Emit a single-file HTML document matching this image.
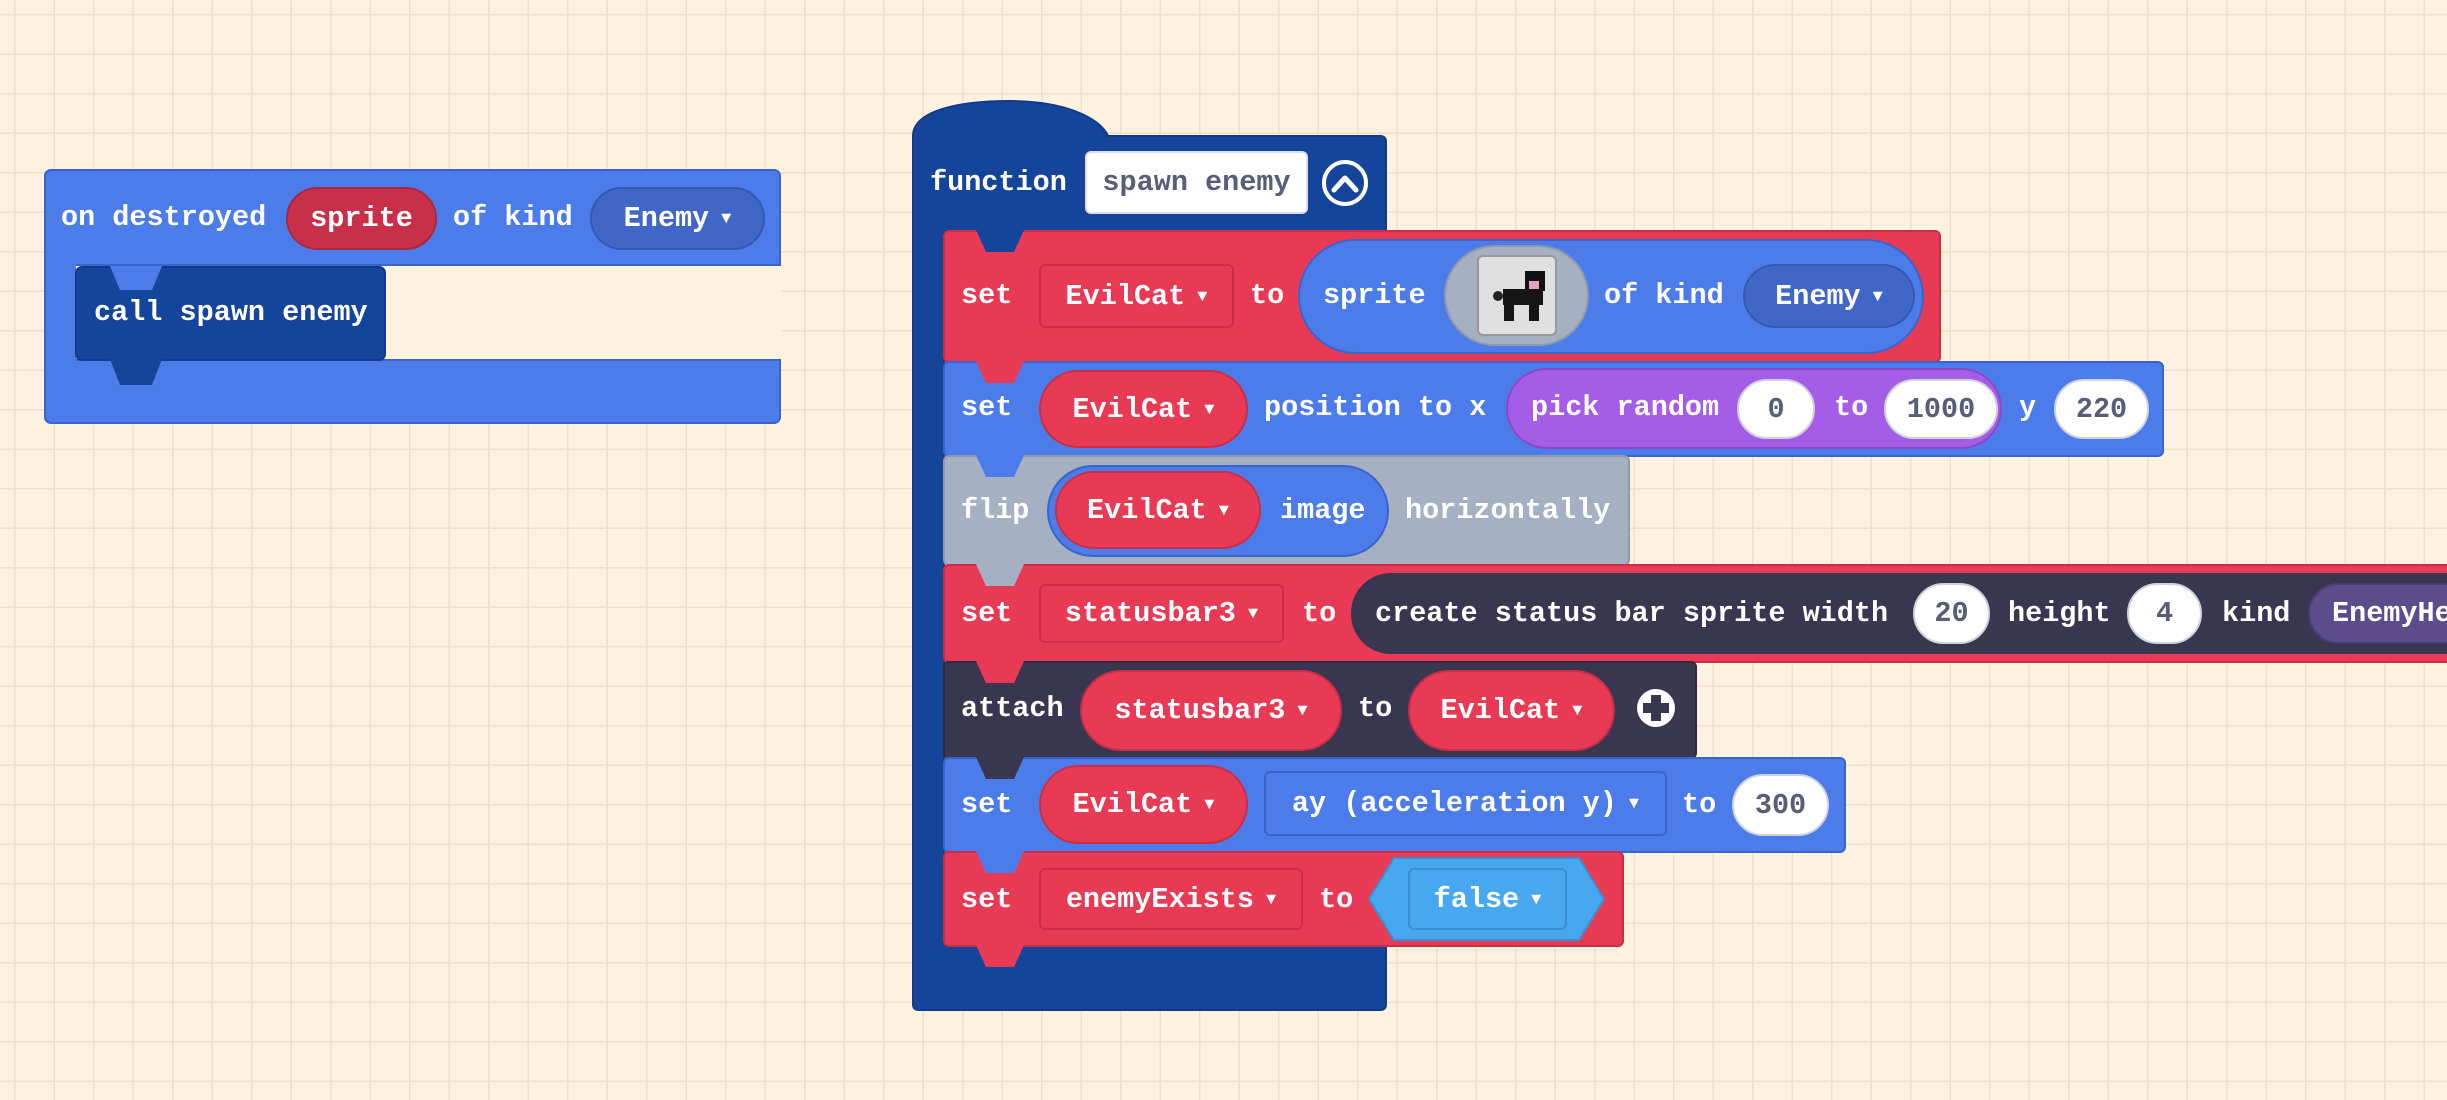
<!DOCTYPE html>
<html><head><meta charset="utf-8"><style>
html,body{margin:0;padding:0}
body{width:2447px;height:1100px;position:relative;overflow:hidden;background-color:#fdf2df;
background-image:linear-gradient(to right,#ecdfcc 1.5px,transparent 1.5px),linear-gradient(to bottom,#ecdfcc 1.5px,transparent 1.5px);
background-size:39.5px 39.5px;background-position:14px 14px;
font-family:"Liberation Mono",monospace;font-weight:bold;font-size:28.5px;color:#fff}
.a{position:absolute;box-sizing:border-box}
.t{position:absolute;white-space:nowrap;line-height:40px;transform:translateY(-20px)}
.pill{position:absolute;box-sizing:border-box;border-radius:999px;display:flex;align-items:center;justify-content:center;white-space:nowrap}
.v{background:#fff;color:#575e75;border:2px solid #cfd3dc}
.dd{position:absolute;box-sizing:border-box;border-radius:6px;display:flex;align-items:center;justify-content:center;white-space:nowrap}
.tri{font-size:17px;margin-left:12px;position:relative;top:1px}
svg{position:absolute;left:0;top:0}
</style></head><body>

<svg width="2447" height="1100">
<!-- left event block -->
<rect x="45" y="170" width="735" height="253" rx="6" fill="#4c7ce9" stroke="#3a64c8" stroke-width="2"/>
<rect x="76" y="266" width="706" height="93" fill="#fdf2df"/>
<line x1="76" y1="265" x2="780" y2="265" stroke="#3a64c8" stroke-width="2"/>
<line x1="76" y1="360" x2="780" y2="360" stroke="#3a64c8" stroke-width="2"/>
<rect x="76" y="267" width="309" height="93" rx="6" fill="#15449b" stroke="#12398a" stroke-width="2"/>
<path d="M110 266 L120 290 L152 290 L162 266 Z" fill="#4c7ce9"/>
<path d="M110 359 L120 385 L152 385 L162 359 Z" fill="#15449b"/>

<!-- function block -->
<path d="M913 136 C913 112 955 101 1010 101 C1065 101 1100 118 1108 136 L1380 136 Q1386 136 1386 142 L1386 231 L944 231 L944 946 L1386 946 L1386 1004 Q1386 1010 1380 1010 L919 1010 Q913 1010 913 1004 Z" fill="#15449b" stroke="#12398a" stroke-width="2"/>

<rect x="944" y="231" width="996" height="131" rx="5" fill="#e93a55" stroke="#c92d47" stroke-width="2"/>
<rect x="944" y="362" width="1219" height="94" rx="5" fill="#4c7ce9" stroke="#3a64c8" stroke-width="2"/>
<rect x="944" y="456" width="685" height="109" rx="5" fill="#a5b0c2" stroke="#8f99ab" stroke-width="2"/>
<rect x="944" y="565" width="1520" height="97" rx="5" fill="#e93a55" stroke="#c92d47" stroke-width="2"/>
<rect x="944" y="662" width="752" height="96" rx="5" fill="#393650" stroke="#2c2a40" stroke-width="2"/>
<rect x="944" y="758" width="901" height="94" rx="5" fill="#4c7ce9" stroke="#3a64c8" stroke-width="2"/>
<rect x="944" y="852" width="679" height="94" rx="5" fill="#e93a55" stroke="#c92d47" stroke-width="2"/>

<path d="M976 230 L986 252 L1014 252 L1024 230 Z" fill="#15449b"/>
<path d="M976 361 L986 383 L1014 383 L1024 361 Z" fill="#e93a55"/>
<path d="M976 455 L986 477 L1014 477 L1024 455 Z" fill="#4c7ce9"/>
<path d="M976 564 L986 586 L1014 586 L1024 564 Z" fill="#a5b0c2"/>
<path d="M976 661 L986 683 L1014 683 L1024 661 Z" fill="#e93a55"/>
<path d="M976 757 L986 779 L1014 779 L1024 757 Z" fill="#393650"/>
<path d="M976 851 L986 873 L1014 873 L1024 851 Z" fill="#4c7ce9"/>
<path d="M976 945 L986 967 L1014 967 L1024 945 Z" fill="#e93a55"/>

<path d="M1369 899 L1394 858 L1579 858 L1604 899 L1579 940 L1394 940 Z" fill="#47a8f0" stroke="#3a8fd0" stroke-width="2"/>

<circle cx="1345" cy="183" r="21" fill="none" stroke="#fff" stroke-width="4"/>
<path d="M1334 190 L1345 178 L1356 190" fill="none" stroke="#fff" stroke-width="5" stroke-linecap="round" stroke-linejoin="round"/>
<circle cx="1656" cy="708" r="19" fill="#fff"/>
<rect x="1651" y="695" width="10" height="26" fill="#393650"/>
<rect x="1643" y="703" width="26" height="10" fill="#393650"/>
</svg>

<div class="t" style="left:61px;top:218px">on destroyed</div>
<div class="pill" style="left:286px;top:187px;width:151px;height:63px;background:#c8304a;border:2px solid #a9273e">sprite</div>
<div class="t" style="left:453px;top:218px">of kind</div>
<div class="pill" style="left:590px;top:187px;width:175px;height:63px;background:#4066c7;border:2px solid #3558b0">Enemy<span class="tri">▼</span></div>
<div class="t" style="left:94px;top:313px">call spawn enemy</div>

<div class="t" style="left:930px;top:183px">function</div>
<div class="dd" style="left:1085px;top:151px;width:223px;height:63px;background:#fff;color:#575e75;border:2px solid #dde">spawn enemy</div>

<div class="t" style="left:961px;top:296px">set</div>
<div class="dd" style="left:1039px;top:264px;width:195px;height:64px;border:2px solid #c92d47">EvilCat<span class="tri">▼</span></div>
<div class="t" style="left:1250px;top:296px">to</div>
<div class="pill" style="left:1298px;top:239px;width:626px;height:115px;background:#4c7ce9;border:2px solid #3a64c8"></div>
<div class="t" style="left:1323px;top:296px">sprite</div>
<div class="pill" style="left:1444px;top:245px;width:145px;height:101px;background:#a5b0c2;border:2px solid #8f99ab">
 <div style="width:80px;height:81px;background:#e0e0e0;border:2px solid #999;border-radius:6px;box-sizing:border-box;position:relative">
  <div style="position:absolute;left:46px;top:14px;width:20px;height:20px;background:#111"></div>
  <div style="position:absolute;left:50px;top:24px;width:10px;height:8px;background:#e9a0c0"></div>
  <div style="position:absolute;left:24px;top:32px;width:40px;height:16px;background:#151515"></div>
  <div style="position:absolute;left:25px;top:48px;width:10px;height:16px;background:#151515"></div>
  <div style="position:absolute;left:50px;top:48px;width:10px;height:16px;background:#151515"></div>
  <div style="position:absolute;left:14px;top:34px;width:10px;height:10px;background:#222;border-radius:5px"></div>
 </div></div>
<div class="t" style="left:1604px;top:296px">of kind</div>
<div class="pill" style="left:1743px;top:264px;width:172px;height:64px;background:#4066c7;border:2px solid #3558b0">Enemy<span class="tri">▼</span></div>

<div class="t" style="left:961px;top:408px">set</div>
<div class="pill" style="left:1039px;top:370px;width:209px;height:78px;background:#e93a55;border:2px solid #c92d47">EvilCat<span class="tri">▼</span></div>
<div class="t" style="left:1264px;top:408px">position to x</div>
<div class="pill" style="left:1506px;top:368px;width:496px;height:81px;background:#a55ce6;border:2px solid #8c47c8"></div>
<div class="t" style="left:1531px;top:408px">pick random</div>
<div class="pill v" style="left:1737px;top:379px;width:78px;height:60px">0</div>
<div class="t" style="left:1834px;top:408px">to</div>
<div class="pill v" style="left:1884px;top:379px;width:114px;height:60px">1000</div>
<div class="t" style="left:2019px;top:408px">y</div>
<div class="pill v" style="left:2054px;top:379px;width:95px;height:60px">220</div>

<div class="t" style="left:961px;top:511px">flip</div>
<div class="pill" style="left:1047px;top:465px;width:342px;height:92px;background:#4c7ce9;border:2px solid #3a64c8"></div>
<div class="pill" style="left:1055px;top:471px;width:206px;height:78px;background:#e93a55;border:2px solid #c92d47">EvilCat<span class="tri">▼</span></div>
<div class="t" style="left:1280px;top:511px">image</div>
<div class="t" style="left:1405px;top:511px">horizontally</div>

<div class="t" style="left:961px;top:614px">set</div>
<div class="dd" style="left:1039px;top:584px;width:245px;height:59px;border:2px solid #c92d47">statusbar3<span class="tri">▼</span></div>
<div class="t" style="left:1302px;top:614px">to</div>
<div class="a" style="left:1351px;top:573px;width:1200px;height:81px;background:#393650;border-radius:40px"></div>
<div class="t" style="left:1375px;top:614px">create status bar sprite width</div>
<div class="pill v" style="left:1913px;top:583px;width:77px;height:61px">20</div>
<div class="t" style="left:2008px;top:614px">height</div>
<div class="pill v" style="left:2127px;top:583px;width:75px;height:61px">4</div>
<div class="t" style="left:2222px;top:614px">kind</div>
<div class="a" style="left:2308px;top:583px;width:300px;height:61px;background:#5c4c8c;border:2px solid #4a3d75;border-radius:31px"></div>
<div class="t" style="left:2332px;top:614px">EnemyHealth</div>

<div class="t" style="left:961px;top:709px">attach</div>
<div class="pill" style="left:1080px;top:670px;width:262px;height:81px;background:#e93a55;border:2px solid #c92d47">statusbar3<span class="tri">▼</span></div>
<div class="t" style="left:1358px;top:709px">to</div>
<div class="pill" style="left:1408px;top:670px;width:207px;height:81px;background:#e93a55;border:2px solid #c92d47">EvilCat<span class="tri">▼</span></div>

<div class="t" style="left:961px;top:805px">set</div>
<div class="pill" style="left:1039px;top:765px;width:209px;height:79px;background:#e93a55;border:2px solid #c92d47">EvilCat<span class="tri">▼</span></div>
<div class="dd" style="left:1264px;top:771px;width:403px;height:65px;background:#4c7ce9;border:2px solid #3a64c8">ay (acceleration y)<span class="tri">▼</span></div>
<div class="t" style="left:1682px;top:805px">to</div>
<div class="pill v" style="left:1732px;top:774px;width:97px;height:62px">300</div>

<div class="t" style="left:961px;top:900px">set</div>
<div class="dd" style="left:1039px;top:868px;width:264px;height:62px;border:2px solid #c92d47">enemyExists<span class="tri">▼</span></div>
<div class="t" style="left:1319px;top:900px">to</div>
<div class="dd" style="left:1408px;top:868px;width:159px;height:62px;background:#47a8f0;border:2px solid #3a8fd0">false<span class="tri">▼</span></div>

</body></html>
